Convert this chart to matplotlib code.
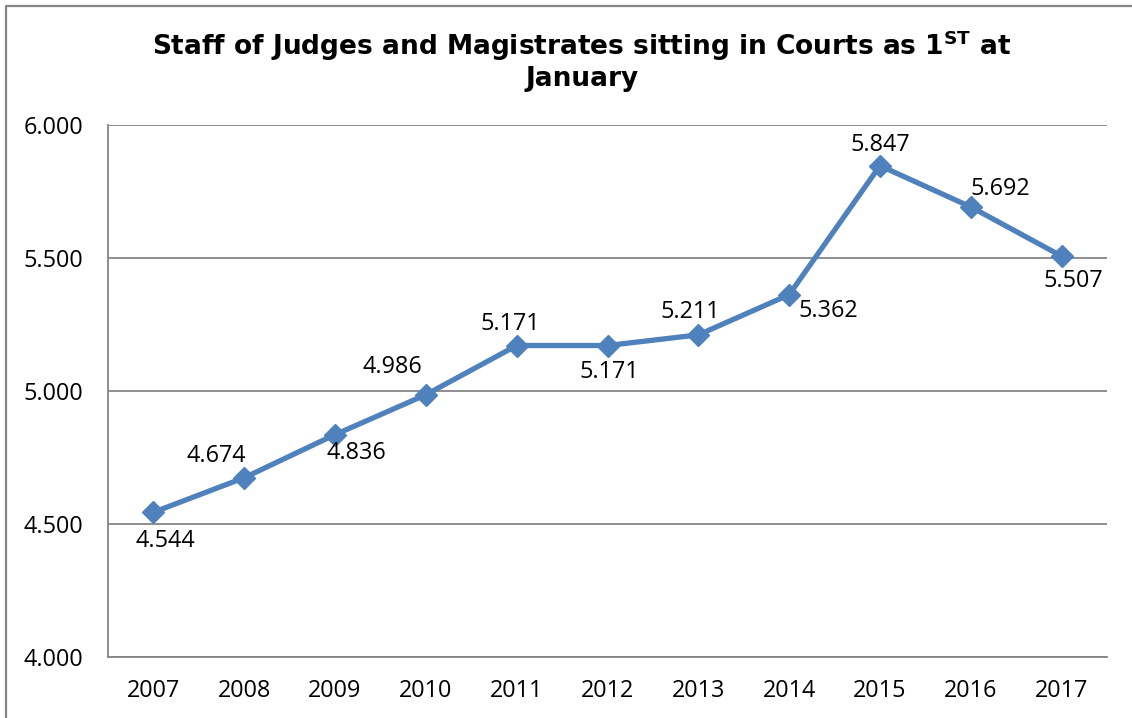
import matplotlib
matplotlib.use("Agg")
import matplotlib.pyplot as plt
from matplotlib.lines import Line2D
from matplotlib.ticker import FuncFormatter

years = ["2007", "2008", "2009", "2010", "2011", "2012",
         "2013", "2014", "2015", "2016", "2017"]
staff = [4544, 4674, 4836, 4986, 5171, 5171, 5211, 5362, 5847, 5692, 5507]
# label offsets from each point, in pixels (x right, y up)
label_dx = [12, -28, 21, -33, -6, 2, -8, 39, 0, 29, 12]
label_dy = [-29, 22, -18, 28, 22, -26, 23, -16, 21, 18, -25]

plt.rcParams["font.family"] = ["Open Sans", "DejaVu Sans"]
plt.rcParams["mathtext.fontset"] = "custom"
plt.rcParams["mathtext.bf"] = "DejaVu Sans:bold"

def thousands(v, pos=None):
    return f"{v:,.0f}".replace(",", ".")

fig = plt.figure(figsize=(11.32, 7.18), dpi=100)
ax = fig.add_axes([108 / 1132, 1 - 657 / 718, 999 / 1132, 532 / 718])

grid_c = "#868686"
fs = 16.8
x = list(range(len(years)))
ax.plot(x, staff, color="#4F81BD", lw=3.8, marker="D", ms=11.5,
        markerfacecolor="#4F81BD", markeredgecolor="#4F81BD", zorder=3)

for xi, v, dx, dy in zip(x, staff, label_dx, label_dy):
    ax.annotate(thousands(v), (xi, v), xytext=(dx, dy),
                textcoords="offset pixels", ha="center", va="center",
                fontsize=fs, color="black")

ax.set_xlim(-0.5, len(years) - 0.5)
ax.set_ylim(4000, 6000)
ax.set_yticks([4000, 4500, 5000, 5500, 6000])
ax.yaxis.set_major_formatter(FuncFormatter(thousands))
ax.set_xticks(x)
ax.set_xticklabels(years)
ax.tick_params(axis="both", length=0, labelsize=fs)
ax.tick_params(axis="y", pad=18)
ax.tick_params(axis="x", pad=15.5)

ax.grid(axis="y", color=grid_c, lw=1.3)
ax.set_axisbelow(True)
for s in ["top", "right"]:
    ax.spines[s].set_visible(False)
for s in ["left", "bottom"]:
    ax.spines[s].set_color(grid_c)
    ax.spines[s].set_linewidth(1.3)

fig.text(582 / 1132, 1 - 46 / 718,
         r"Staff of Judges and Magistrates sitting in Courts as 1$^{\mathbf{ST}}$ at",
         ha="center", va="center", fontsize=19, fontweight="bold",
         family="DejaVu Sans")
fig.text(582 / 1132, 1 - 79 / 718, "January",
         ha="center", va="center", fontsize=19, fontweight="bold",
         family="DejaVu Sans")

# outer chart frame (top and left edges visible)
fig.add_artist(Line2D([6 / 1132, 6 / 1132, 1.0], [0.0, 1 - 6 / 718, 1 - 6 / 718],
                      transform=fig.transFigure, color=grid_c, lw=1.6))

fig.savefig("out.png", dpi=100)
